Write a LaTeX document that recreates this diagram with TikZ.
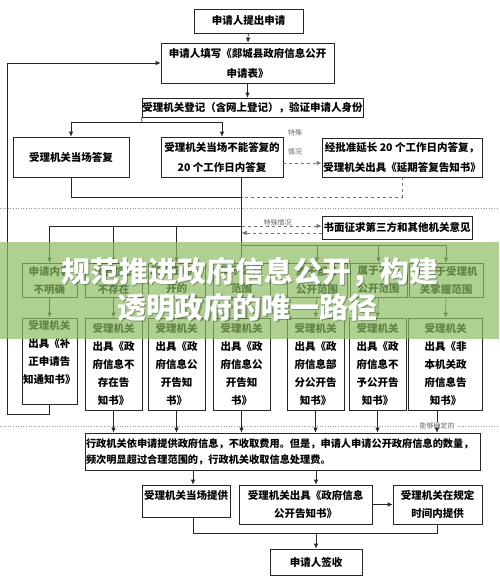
\documentclass[tikz,border=0pt]{standalone}
\usepackage{fontspec}
\setmainfont{Noto Sans CJK SC}
\usetikzlibrary{arrows.meta, calc}

\tikzset{
  box/.style={draw=black!85, line width=0.7pt, inner sep=0pt, align=center,
    font=\fontsize{10.5}{18}\selectfont\bfseries},
  line/.style={draw=black!85, line width=0.7pt},
  arr/.style={line, -{Latex[length=5pt,width=4.5pt]}},
  darr/.style={arr, dashed, draw=black!55},
  tiny/.style={font=\fontsize{7}{8}\selectfont, text=black!60, inner sep=1pt},
  sep/.style={draw=black!40, dotted, line width=0.6pt},
}

\begin{document}
\begin{tikzpicture}[x=1pt, y=-1pt]
\useasboundingbox (0,0) rectangle (499,582);

% application
\node[box, minimum width=109, minimum height=24] (apply) at (248.5,21) {申请人提出申请};
\node[box, minimum width=173, minimum height=40, font=\fontsize{10.5}{20}\selectfont\bfseries] (form) at (247.5,63)
  {申请人填写《郯城县政府信息公开\\申请表》};
\node[box, minimum width=221, minimum height=19] (reg) at (252.5,107.5) {受理机关登记（含网上登记），验证申请人身份};

% answers
\node[box, minimum width=116, minimum height=40] (spot) at (71,157) {受理机关当场答复};
\node[box, minimum width=122, minimum height=40, font=\fontsize{10.5}{20}\selectfont\bfseries] (later) at (222,157)
  {受理机关当场不能答复的\\20 个工作日内答复};
\node[box, minimum width=160, minimum height=39, font=\fontsize{10.5}{20}\selectfont\bfseries] (extend) at (402,157.5)
  {经批准延长 20 个工作日内答复，\\受理机关出具《延期答复告知书》};
\node[tiny] (spec1) at (295,133) {特殊};
\node[tiny] (spec2) at (295,152) {情况};
\node[box, minimum width=150, minimum height=23] (third) at (397,227.5) {书面征求第三方和其他机关意见};

% categories
\node[box, minimum width=55, minimum height=34] (c1) at (49.5,280) {申请内容\\不明确};
\node[box, minimum width=57, minimum height=34] (c2) at (113.5,280) {政府信息\\不存在};
\node[box, minimum width=57, minimum height=34] (c3) at (176.5,280) {属于主动公\\开的};
\node[box, minimum width=57, minimum height=34] (c4) at (241.5,280) {属于公开\\范围};
\node[box, minimum width=60, minimum height=34] (c5) at (317,280) {属于部分\\公开范围};
\node[box, minimum width=57, minimum height=34] (c6) at (378.5,280) {属于不予\\公开范围};
\node[box, minimum width=74, minimum height=34] (c7) at (446,280) {不属于受理机\\关掌握范围};

% notices
\node[box, minimum width=55, minimum height=86] (r1) at (49.5,361) {受理机关\\出具《补\\正申请告\\知通知书》\\~};
\node[box, minimum width=57, minimum height=92] (r2) at (113.5,364) {受理机关\\出具《政\\府信息不\\存在告\\知书》};
\node[box, minimum width=57, minimum height=92] (r3) at (176.5,364) {受理机关\\出具《政\\府信息公\\开告知\\书》};
\node[box, minimum width=57, minimum height=92] (r4) at (241.5,364) {受理机关\\出具《政\\府信息公\\开告知\\书》};
\node[box, minimum width=57, minimum height=92] (r5) at (315.5,364) {受理机关\\出具《政\\府信息部\\分公开告\\知书》};
\node[box, minimum width=57, minimum height=92] (r6) at (377.5,364) {受理机关\\出具《政\\府信息不\\予公开告\\知书》};
\node[box, minimum width=74, minimum height=92] (r7) at (445.5,364) {受理机关\\出具《非\\本机关政\\府信息告\\知书》};

% fee
\node[box, minimum width=395, minimum height=37, text width=393, align=left, inner xsep=1pt,
  font=\fontsize{10.2}{16}\selectfont\bfseries] (fee) at (282.5,451.5)
  {行政机关依申请提供政府信息，不收取费用。但是，申请人申请公开政府信息的数量，\\频次明显超过合理范围的，行政机关收取信息处理费。};

% delivery
\node[box, minimum width=88, minimum height=32, text height=10pt, text depth=13pt, inner ysep=4.5pt] (b1) at (186,501) {受理机关当场提供};
\node[box, minimum width=133, minimum height=39] (b2) at (305.5,504.5) {受理机关出具《政府信息\\公开告知书》};
\node[box, minimum width=89, minimum height=39] (b3) at (437.5,504.5) {受理机关在规定\\时间内提供};
\node[box, minimum width=92, minimum height=26] (sign) at (316,562) {申请人签收};

% separators
\draw[sep] (0,208) -- (499,208);
\draw[sep] (0,426) -- (499,426);
\node[tiny, fill=white, inner xsep=3pt] (sure) at (437,426) {能够确定的};

% connectors
\coordinate (back) at (7,63);
\coordinate (split) at (142,122);
\draw[arr] (apply) -- (form);
\draw[arr] (form) -- (form |- reg.north);
\draw[line] (reg.south west) -- (split);
\draw[arr] (split) -| (spot.north);
\draw[arr] (split) -| (later.north);
\draw[darr] (later.east |- 0,163) -- (extend.west |- 0,163);
\draw[line] (spot.south) |- (c4.north |- 0,197);
\draw[line, dashed, draw=black!55] (extend.south) |- (c4.north |- 0,197);
\draw[arr] (later.south -| c4.north) -- (c4.north);
\draw[darr] (c4.north |- 0,226) -- node[tiny, above=-1pt, pos=0.45] (spec3) {特殊情况} (third.west |- 0,226);
\draw[darr] (third.west |- 0,233) -- (c4.north |- 0,233);
\draw[line] (c1.north |- 0,226) -- (c4.north |- 0,226);
\draw[line] (c4.north |- 0,245) -- (c7.north |- 0,245);
\foreach \n in {c1,c2,c3}
  \draw[arr] (\n.north |- 0,226) -- (\n.north);
\foreach \n in {c5,c6,c7}
  \draw[arr] (\n.north |- 0,245) -- (\n.north);
\foreach \i in {1,...,7}
  \draw[arr] (c\i.south) -- (r\i.north);
\draw[arr] (r1.south) -- ++(0,10) -| (back) -- (form.west);
\foreach \i in {2,...,6}
  \draw[arr] (r\i.south) -- (r\i.south |- fee.north);
\draw[line] (r7.south -| sure.north) -- (sure.north);
\draw[arr] (sure.south) -- (sure.south |- fee.north);
\draw[arr] ([xshift=7pt]b1.north |- fee.south) -- ([xshift=7pt]b1.north);
\draw[arr] (fee.south -| sign.north) -- (b2.north -| sign.north);
\draw[arr] (b2) -- (b3);
\draw[line] ([xshift=7pt]b1.south) |- (b3.south |- 0,533) -- (b3.south);
\draw[arr] (sign.north |- 0,533) -- (sign.north);

% banner
\fill[fill={rgb,255:red,140;green,190;blue,100}, fill opacity=0.7] (0,242) rectangle (499,339);
\node[font=\fontsize{29}{34}\selectfont\bfseries, text=black, opacity=0.3] at (251,273) {规范推进政府信息公开，构建};
\node[font=\fontsize{29}{34}\selectfont\bfseries, text=black, opacity=0.3] at (248.5,309) {透明政府的唯一路径};
\node[font=\fontsize{29}{34}\selectfont\bfseries, text=white] (title1) at (250,272) {规范推进政府信息公开，构建};
\node[font=\fontsize{29}{34}\selectfont\bfseries, text=white] (title2) at (247.5,308) {透明政府的唯一路径};
\end{tikzpicture}
\end{document}
